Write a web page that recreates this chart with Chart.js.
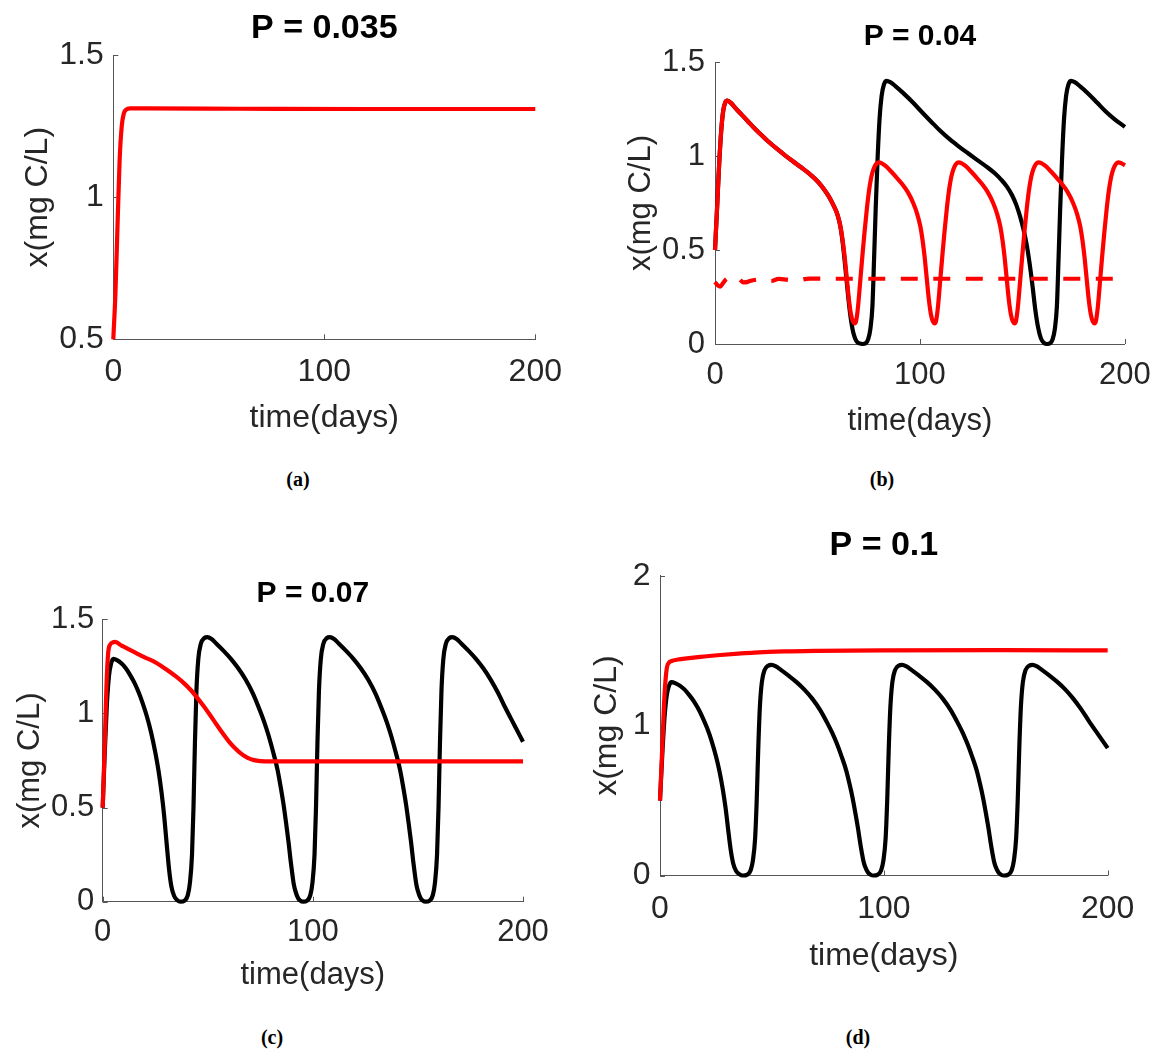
<!DOCTYPE html>
<html lang="en">
<head>
<meta charset="UTF-8">
<title>x(mg C/L) against time for four values of P</title>
<script src="https://cdn.jsdelivr.net/npm/chart.js@4"></script>
<style>
  body { margin: 0; background: #fff; width: 1164px; height: 1050px; position: relative; overflow: hidden; }
  canvas { position: absolute; }
  .cap { position: absolute; transform: translate(-50%, -50%); font: bold 20px "Liberation Serif", "Times New Roman", serif; color: #000; }
</style>
</head>
<body>
<canvas id="pa"></canvas>
<canvas id="pb"></canvas>
<canvas id="pc"></canvas>
<canvas id="pd"></canvas>
<div class="cap" style="left:298px;top:479px">(a)</div>
<div class="cap" style="left:882px;top:479px">(b)</div>
<div class="cap" style="left:272px;top:1037px">(c)</div>
<div class="cap" style="left:858px;top:1037px">(d)</div>

<script>
// ticks
const xTicks = [0, 100, 200];
const yTicksA = [0.5, 1, 1.5];
const yTicksBC = [0, 0.5, 1, 1.5];
const yTicksD = [0, 1, 2];

// series, [time (days), x (mg C/L)]
const redA = [[0,0.5],[1,0.66],[2,0.9],[3,1.13],[4,1.25],[5,1.295],[6,1.307],[8,1.312],[15,1.312],[60,1.311],[120,1.31],[200,1.31]];

const blackB = [[0,0.5],[1,0.72],[2,0.95],[3,1.13],[4,1.24],[5,1.285],[6,1.295],[8,1.28],[10,1.255],[13,1.22],[16,1.185],
  [19,1.15],[22,1.118],[26,1.077],[30,1.04],[34,1.005],[38,0.972],[42,0.94],[46,0.906],[50,0.866],[53,0.826],[55.5,0.785],
  [57.7,0.74],[59.7,0.69],[61,0.635],[62,0.565],
  [63,0.47],[64,0.36],[65,0.25],[66,0.155],[67,0.085],[68,0.04],[69,0.015],[70.5,0.003],[72,0],[73.5,0.004],[74.7,0.025],
  [75.8,0.08],[76.8,0.2],[77.6,0.45],[78.4,0.72],[79.3,0.98],[80.3,1.2],[81.3,1.32],[82.4,1.38],[83.7,1.4],[85.5,1.393],
  [88,1.372],[92,1.333],[96.7,1.283],[101,1.233],[105.7,1.18],[110,1.133],[114.6,1.088],[119,1.05],[123.6,1.013],[128,0.978],
  [132.6,0.942],[136.5,0.908],[139.8,0.872],[142.5,0.836],[145,0.79],[147,0.74],[148.8,0.68],[150.5,0.61],[152.2,0.52],
  [153.6,0.42],[155,0.3],[156.3,0.18],[157.6,0.09],[159,0.03],[160.5,0.006],[162,0],[163.5,0.004],[164.7,0.025],[165.8,0.08],
  [166.8,0.2],[167.6,0.45],[168.4,0.72],[169.3,0.98],[170.3,1.2],[171.3,1.32],[172.4,1.38],[173.7,1.4],[175.5,1.393],
  [178,1.372],[182,1.333],[186.5,1.283],[190.5,1.238],[195,1.195],[200,1.155]];

const redB = [[0,0.5],[1,0.72],[2,0.95],[3,1.13],[4,1.24],[5,1.285],[6,1.295],[8,1.28],[10,1.255],[13,1.22],[16,1.185],
  [19,1.15],[22,1.118],[26,1.077],[30,1.04],[34,1.005],[38,0.972],[42,0.94],[46,0.906],[50,0.866],[53,0.826],[55.5,0.785],
  [57.7,0.74],[59.7,0.69],[61.2,0.625],[62.3,0.55],
  [63.3,0.46],[64.3,0.35],[65.3,0.24],[66.3,0.16],[67.3,0.12],[68.2,0.11],
  [68.9,0.125],[69.8,0.2],[70.9,0.34],[72,0.48],[73,0.6],[74.1,0.72],[75.2,0.82],[76.3,0.89],[77.4,0.932],[78.5,0.956],[79.7,0.966],
  [81.2,0.962],[83.2,0.947],[85.7,0.92],[88.2,0.89],[91.2,0.852],[94.2,0.805],[96.7,0.75],[98.7,0.69],[100.2,0.625],[101.3,0.55],
  [102.3,0.46],[103.3,0.35],[104.3,0.24],[105.3,0.16],[106.3,0.12],[107.2,0.11],
  [107.9,0.125],[108.8,0.2],[109.9,0.34],[111,0.48],[112,0.6],[113.1,0.72],[114.2,0.82],[115.3,0.89],[116.4,0.932],[117.5,0.956],[118.7,0.966],
  [120.2,0.962],[122.2,0.947],[124.7,0.92],[127.2,0.89],[130.2,0.852],[133.2,0.805],[135.7,0.75],[137.7,0.69],[139.2,0.625],[140.3,0.55],
  [141.3,0.46],[142.3,0.35],[143.3,0.24],[144.3,0.16],[145.3,0.12],[146.2,0.11],
  [146.9,0.125],[147.8,0.2],[148.9,0.34],[150,0.48],[151,0.6],[152.1,0.72],[153.2,0.82],[154.3,0.89],[155.4,0.932],[156.5,0.956],[157.7,0.966],
  [159.2,0.962],[161.2,0.947],[163.7,0.92],[166.2,0.89],[169.2,0.852],[172.2,0.805],[174.7,0.75],[176.7,0.69],[178.2,0.625],[179.3,0.55],
  [180.3,0.46],[181.3,0.35],[182.3,0.24],[183.3,0.16],[184.3,0.12],[185.2,0.11],
  [185.9,0.125],[186.8,0.2],[187.9,0.34],[189,0.48],[190,0.6],[191.1,0.72],[192.2,0.82],[193.3,0.89],[194.4,0.932],[195.5,0.956],[196.7,0.966],
  [198.2,0.962],[200,0.95]];

const redDashB = [[0,0.33],[1,0.315],[2.5,0.305],[4,0.325],[5.5,0.345],[8,0.356],[10.5,0.357],[12,0.345],[13.7,0.328],
  [15.5,0.329],[17,0.335],[21,0.343],[24.2,0.344],[27.4,0.335],[31,0.346],[35,0.342],[39.2,0.337],[46,0.348],[55,0.347],[200,0.347]];

const blackCD = [[0,0.5],[1,0.8],[2,1.05],[3,1.2],[4,1.265],[5.1,1.29],[7,1.282],[9,1.265],[11,1.24],[13,1.205],[15,1.165],
  [17,1.115],[19,1.055],[21,0.985],[23,0.9],[25,0.795],[26.5,0.7],[28,0.58],[29.3,0.45],[30.5,0.3],[31.6,0.17],[32.7,0.08],
  [34,0.03],[35.5,0.008],[37,0],[39,0.006],[40.5,0.035],[41.5,0.1],[42.5,0.25],[43.2,0.5],[43.9,0.85],[44.6,1.12],[45.5,1.29],
  [46.7,1.37],[48.3,1.4],[49.8,1.405],
  [51.8,1.395],[54,1.372],[57.3,1.335],[61,1.29],[64.5,1.24],[68,1.18],[71.5,1.105],[75,1.01],[77,0.95],[79,0.88],[81.1,0.795],
  [83.2,0.7],[84.6,0.615],[86,0.52],[87.3,0.415],[88.5,0.31],[89.4,0.22],[90.2,0.15],[90.9,0.095],[91.6,0.06],[93,0.018],
  [94.1,0.005],[95.3,0],[97.3,0.006],[98.8,0.035],[99.8,0.1],[100.8,0.25],[101.5,0.5],[102.2,0.85],[102.9,1.12],[103.8,1.29],
  [105,1.37],[106.6,1.4],[108.1,1.405],
  [110.1,1.395],[112.3,1.372],[115.6,1.335],[119.3,1.29],[122.8,1.24],[126.3,1.18],[129.8,1.105],[133.3,1.01],[135.3,0.95],
  [137.3,0.88],[139.4,0.795],[141.5,0.7],[142.9,0.615],[144.3,0.52],[145.6,0.415],[146.8,0.31],[147.7,0.22],[148.5,0.15],
  [149.2,0.095],[149.9,0.06],[151.3,0.018],[152.4,0.005],[153.6,0],[155.6,0.006],[157.1,0.035],[158.1,0.1],[159.1,0.25],
  [159.8,0.5],[160.5,0.85],[161.2,1.12],[162.1,1.29],[163.3,1.37],[164.9,1.4],[166.4,1.405],
  [168.4,1.395],[170.6,1.372],[173.9,1.335],[177.6,1.29],[181.1,1.24],[184.6,1.18],[188.1,1.11],[191.6,1.03],[195.8,0.94],[200,0.85]];

const redC = [[0,0.5],[1,0.85],[1.8,1.15],[2.6,1.32],[3.5,1.365],[5,1.378],[6,1.38],[9,1.36],[12.5,1.34],[16,1.32],[20,1.298],
  [24,1.278],[27.5,1.255],[31,1.228],[35,1.195],[39,1.157],[42,1.123],[45,1.083],[48,1.04],[51,0.993],[54,0.944],[57,0.896],
  [60,0.852],[63,0.815],[66,0.785],[69,0.764],[72,0.752],[75,0.747],[80,0.745],[120,0.745],[200,0.745]];

const redD = [[0,0.5],[1,0.85],[2,1.2],[3,1.38],[4,1.42],[5.2,1.431],[8,1.441],[12,1.449],[18,1.459],[27,1.471],[35,1.48],
  [42,1.487],[55,1.495],[70,1.499],[100,1.502],[150,1.503],[200,1.502]];

const RED = '#ff0000';
const BLACK = '#000000';
const axisColor = '#555555';
const textColor = '#262626';
const sans = '"Liberation Sans", Arial, Helvetica, sans-serif';

// short ticks drawn inside the axes, MATLAB style
const inwardTicks = {
  id: 'inwardTicks',
  beforeDatasetsDraw(chart) {
    const {ctx, chartArea: a, scales: {x, y}} = chart;
    ctx.save();
    ctx.strokeStyle = axisColor;
    ctx.lineWidth = 1;
    ctx.beginPath();
    x.ticks.forEach(t => {
      const p = Math.round(x.getPixelForValue(t.value)) + 0.5;
      ctx.moveTo(p, a.bottom); ctx.lineTo(p, a.bottom - 5);
    });
    y.ticks.forEach(t => {
      const p = Math.round(y.getPixelForValue(t.value)) + 0.5;
      ctx.moveTo(a.left, p); ctx.lineTo(a.left + 5, p);
    });
    ctx.stroke();
    ctx.restore();
  }
};

function panel(id, o) {
  const cv = document.getElementById(id);
  cv.width = o.w; cv.height = o.h;
  cv.style.left = o.cx + 'px'; cv.style.top = o.cy + 'px';
  cv.style.width = o.w + 'px'; cv.style.height = o.h + 'px';

  const L = o.area[0] - o.cx, T = o.area[1] - o.cy, R = o.area[2] - o.cx, B = o.area[3] - o.cy;
  const tl = o.titleSize * 1.2;
  const tTop = o.titleY - o.cy - tl / 2;
  const al = o.font * 1.2;
  const xH = o.xLabelY - o.cy + al / 2 - B;
  const font = {family: sans, size: o.font};

  new Chart(cv, {
    type: 'line',
    data: {
      datasets: o.series.map(s => ({
        data: s.data,
        borderColor: s.color,
        borderWidth: 4.2,
        borderDash: s.dash || [],
        borderCapStyle: 'butt',
        borderJoinStyle: 'round',
        pointRadius: 0,
        cubicInterpolationMode: 'monotone',
        fill: false,
        clip: 6
      }))
    },
    options: {
      responsive: false,
      animation: false,
      devicePixelRatio: 1,
      layout: {padding: {left: 0, top: 0, right: o.w - R, bottom: o.h - B - xH}},
      plugins: {
        legend: {display: false},
        tooltip: {enabled: false},
        title: {
          display: true, text: o.title, fullSize: false, color: '#000',
          font: {family: sans, size: o.titleSize, weight: 'bold'},
          padding: {top: tTop, bottom: T - tTop - tl}
        }
      },
      scales: {
        x: {
          type: 'linear', min: 0, max: 200,
          afterBuildTicks: s => { s.ticks = xTicks.map(v => ({value: v})); },
          afterFit: s => { s.height = xH; },
          grid: {display: false, drawTicks: false},
          border: {color: axisColor, width: 1},
          ticks: {font, color: textColor, padding: o.xPad, maxRotation: 0, autoSkip: false, callback: v => String(v)},
          title: {display: true, text: 'time(days)', font, color: textColor, padding: {top: 0, bottom: 0}}
        },
        y: {
          type: 'linear', min: o.yTicks[0], max: o.yTicks[o.yTicks.length - 1],
          afterBuildTicks: s => { s.ticks = o.yTicks.map(v => ({value: v})); },
          afterFit: s => { s.width = L; },
          grid: {display: false, drawTicks: false},
          border: {color: axisColor, width: 1},
          ticks: {font, color: textColor, padding: o.yPad, autoSkip: false, callback: v => String(v)},
          title: {display: true, text: 'x(mg C/L)', font, color: textColor, padding: {top: o.yLabelX - o.cx - al / 2, bottom: 0}}
        }
      }
    },
    plugins: [inwardTicks]
  });
}

panel('pa', {
  cx: 0, cy: 0, w: 576, h: 448, area: [113.3, 55, 536, 339.3],
  title: 'P = 0.035', titleY: 28.3, titleSize: 34, font: 32,
  yLabelX: 38, xLabelY: 418.3, xPad: 14, yPad: 9.5, yTicks: yTicksA,
  series: [{data: redA, color: RED}]
});

panel('pb', {
  cx: 580, cy: 0, w: 584, h: 452, area: [715, 62, 1128.4, 344],
  title: 'P = 0.04', titleY: 36.7, titleSize: 30, font: 31,
  yLabelX: 641, xLabelY: 421.7, xPad: 13.2, yPad: 10, yTicks: yTicksBC,
  series: [{data: redDashB, color: RED, dash: [17, 15.5]}, {data: redB, color: RED}, {data: blackB, color: BLACK}]
});

panel('pc', {
  cx: 0, cy: 540, w: 563, h: 465, area: [102.7, 619.3, 523, 901.7],
  title: 'P = 0.07', titleY: 593.5, titleSize: 30, font: 31,
  yLabelX: 30, xLabelY: 975, xPad: 11.7, yPad: 8.5, yTicks: yTicksBC,
  series: [{data: redC, color: RED}, {data: blackCD, color: BLACK}]
});

panel('pd', {
  cx: 580, cy: 500, w: 584, h: 486, area: [660, 575.7, 1107.7, 875.5],
  title: 'P = 0.1', titleY: 545.3, titleSize: 34, font: 32,
  yLabelX: 607, xLabelY: 956, xPad: 14.3, yPad: 9.5, yTicks: yTicksD,
  series: [{data: redD, color: RED}, {data: blackCD, color: BLACK}]
});
</script>
</body>
</html>
